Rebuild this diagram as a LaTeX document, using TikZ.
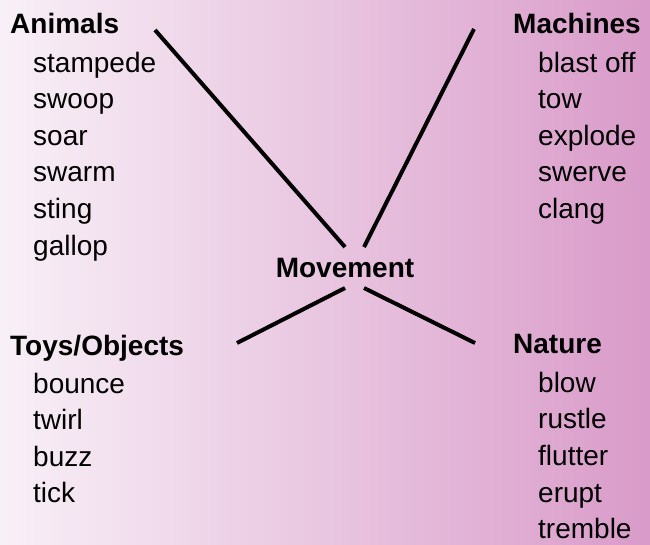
\documentclass[tikz,border=0pt]{standalone}
\usepackage{fontspec}
\setmainfont{Liberation Sans}
\definecolor{bgL}{RGB}{248,240,247}
\definecolor{bgR}{RGB}{217,155,201}
\begin{document}
\begin{tikzpicture}[x=1pt,y=-1pt,
  head/.style={anchor=base west,inner sep=0pt,font=\fontsize{28}{32}\selectfont\bfseries},
  item/.style={anchor=base west,inner sep=0pt,font=\fontsize{28}{32}\selectfont},
  spoke/.style={line width=4pt,black}]
\shade[left color=bgL,right color=bgR] (0,0) rectangle (650,544);
\useasboundingbox (0,0) rectangle (650,544);
% Animals
\node[head] (animals) at (10,33) {Animals};
\foreach \w [count=\i from 0] in {stampede,swoop,soar,swarm,sting,gallop}
  \node[item] (a\i) at (33,72+36.6*\i) {\w};
% Machines
\node[head] (machines) at (513,33) {Machines};
\foreach \w [count=\i from 0] in {blast off,tow,explode,swerve,clang}
  \node[item] (m\i) at (538,72+36.6*\i) {\w};
% Toys/Objects
\node[head] (toys) at (10,355) {Toys/Objects};
\foreach \w [count=\i from 0] in {bounce,twirl,buzz,tick}
  \node[item] (t\i) at (33,393+36.6*\i) {\w};
% Nature
\node[head] (nature) at (513,353) {Nature};
\foreach \w [count=\i from 0] in {blow,rustle,flutter,erupt,tremble}
  \node[item] (n\i) at (538,392+36.7*\i) {\w};
% Centre
\node[head,anchor=base] (move) at (345,277) {Movement};
\coordinate (c1) at (345,247);
\coordinate (c2) at (364,247);
\coordinate (c3) at (345,288);
\coordinate (c4) at (364,288);
\coordinate (e1) at (155,30);
\coordinate (e2) at (474,29);
\coordinate (e3) at (237,343);
\coordinate (e4) at (475,343);
\draw[spoke] (c1) -- (e1);
\draw[spoke] (c2) -- (e2);
\draw[spoke] (c3) -- (e3);
\draw[spoke] (c4) -- (e4);
\end{tikzpicture}
\end{document}
